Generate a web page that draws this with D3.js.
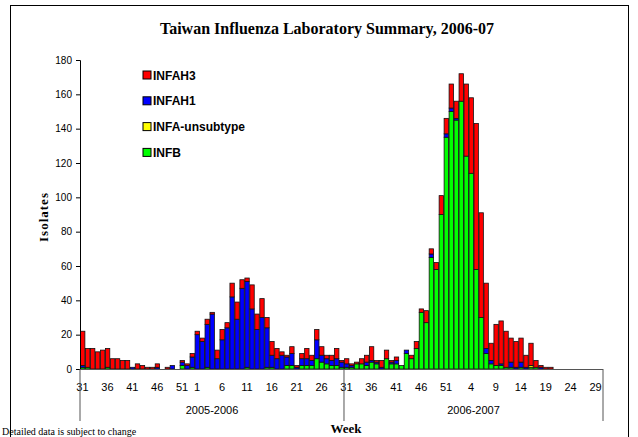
<!DOCTYPE html>
<html lang="en">
<head>
  <meta charset="UTF-8">
  <script src="https://d3js.org/d3.v7.min.js"></script>
  <style>
    body {
      margin: 0;
      background-color: #fff;
    }

    svg {
      display: block;
    }

    .serif {
      font-family: "Liberation Serif", "Times New Roman", serif;
      font-weight: bold;
    }

    .sans {
      font-family: "Liberation Sans", Arial, sans-serif;
    }
  </style>
</head>
<body>

<svg width="638" height="437"></svg>

<script>
  // season week numbers (2005 season had a week 53)
  const seasons = ['2005-2006', '2006-2007'];
  const weeks1 = d3.range(31, 54).concat(d3.range(1, 31));
  const weeks2 = d3.range(31, 53).concat(d3.range(1, 31));
  const tickWeeks1 = [31, 36, 41, 46, 51, 1, 6, 11, 16, 21, 26];
  const tickWeeks2 = [31, 36, 41, 46, 51, 4, 9, 14, 19, 24, 29];

  const seriesNames = ['INFAH3', 'INFAH1', 'INFA-unsubtype', 'INFB'];

  const h3 = [
    20, 11, 12, 10, 11, 11, 6, 6, 5, 5,
    0, 3, 2, 1, 1, 2, 0, 1, 0, 0,
    1, 1, 2, 2, 2, 3, 1, 5, 6, 3,
    8, 10, 5, 2, 14, 9, 11, 6, 8, 6,
    2, 1, 4, 1, 3, 6, 3, 6, 5, 2,
    3, 6, 1, 3, 1, 1, 3, 4, 8, 1,
    4, 5, 1, 2, 0, 0, 2, 4, 2, 7,
    3, 4, 11, 9, 14, 10, 16, 42, 44, 85,
    61, 38, 10, 24, 25, 21, 14, 15, 14, 7,
    13, 4, 1, 1, 1, 0, 0, 0, 0, 0,
    0, 0, 0, 0, 0
  ];
  const h1 = [
    1, 0, 0, 0, 0, 0, 0, 0, 0, 0,
    1, 0, 0, 0, 0, 1, 0, 0, 2, 0,
    2, 2, 6, 20, 16, 25, 32, 6, 17, 24,
    42, 29, 47, 50, 35, 23, 30, 23, 7, 6,
    8, 5, 7, 1, 4, 4, 3, 11, 4, 3,
    3, 4, 3, 2, 1, 0, 0, 2, 1, 1,
    1, 0, 1, 2, 0, 2, 0, 0, 0, 0,
    2, 0, 0, 2, 2, 1, 0, 0, 0, 0,
    0, 3, 2, 0, 1, 0, 3, 1, 3, 1,
    0, 0, 1, 0, 0, 0, 0, 0, 0, 0,
    0, 0, 0, 0, 0
  ];
  const unsub = [
    0, 0, 0, 0, 0, 0, 0, 0, 0, 0,
    0, 0, 0, 0, 0, 0, 0, 0, 0, 0,
    0, 0, 0, 0, 0, 0, 0, 0, 0, 0,
    0, 0, 0, 0, 0, 0, 0, 0, 0, 0,
    0, 0, 0, 0, 0, 0, 0, 0, 0, 0,
    0, 0, 0, 0, 0, 0, 0, 0, 0, 0,
    0, 0, 0, 0, 0, 0, 0, 0, 0, 0,
    0, 0, 0, 0, 0, 0, 0, 0, 0, 0,
    0, 0, 0, 0, 0, 0, 0, 0, 0, 0,
    1, 0, 0, 0, 0, 0, 0, 0, 0, 0,
    0, 0, 0, 0, 0
  ];
  const infb = [
    1, 1, 0, 0, 0, 1, 0, 0, 0, 0,
    0, 0, 0, 0, 0, 0, 0, 0, 0, 0,
    2, 0, 1, 0, 0, 1, 0, 0, 0, 0,
    0, 0, 0, 1, 0, 0, 0, 1, 1, 0,
    0, 2, 2, 0, 2, 2, 2, 6, 4, 3,
    2, 2, 1, 1, 1, 3, 3, 2, 4, 3,
    0, 6, 3, 3, 2, 9, 6, 12, 33, 27,
    65, 58, 90, 135, 150, 145, 156, 124, 114, 58,
    30, 9, 3, 2, 2, 1, 1, 0, 1, 0,
    1, 1, 0, 0, 0, 0, 0, 0, 0, 0,
    0, 0, 0, 0, 0
  ];

  const yTicks = d3.range(0, 181, 20);

  // build the rows for the stack
  const cats = [];
  weeks1.forEach(w => cats.push({ key: 's0-' + w, season: 0, week: w }));
  weeks2.forEach(w => cats.push({ key: 's1-' + w, season: 1, week: w }));
  const rows = cats.map((c, i) => ({
    key: c.key,
    'INFAH3': h3[i],
    'INFAH1': h1[i],
    'INFA-unsubtype': unsub[i],
    'INFB': infb[i]
  }));

  const colors = {
    'INFAH3': '#ff0000',
    'INFAH1': '#0000ff',
    'INFA-unsubtype': '#ffff00',
    'INFB': '#00ff00'
  };

  const svg = d3.select('svg');
  const plotL = 80, plotR = 603, plotT = 60, plotB = 369;

  // frame
  svg.append('rect')
    .attr('x', 10.5).attr('y', 5.5)
    .attr('width', 618).attr('height', 440)
    .attr('fill', 'none').attr('stroke', '#000');

  const x = d3.scaleBand()
    .domain(cats.map(c => c.key))
    .range([plotL, plotR])
    .paddingInner(0);

  const y = d3.scaleLinear()
    .domain([0, 180])
    .range([plotB, plotT]);

  // stacked bars, bottom series first
  const stack = d3.stack().keys(['INFB', 'INFA-unsubtype', 'INFAH1', 'INFAH3']);
  const layers = stack(rows);

  svg.append('g')
    .selectAll('g')
    .data(layers)
    .enter().append('g')
    .attr('fill', d => colors[d.key])
    .selectAll('rect')
    .data(d => d.filter(p => p[1] > p[0]))
    .enter().append('rect')
    .attr('x', d => x(d.data.key) + 0.5)
    .attr('width', x.bandwidth() - 0.6)
    .attr('y', d => y(d[1]))
    .attr('height', d => y(d[0]) - y(d[1]))
    .attr('stroke', '#111')
    .attr('stroke-width', 0.8);

  // y axis
  const yAxis = svg.append('g')
    .attr('transform', `translate(${plotL},0)`)
    .call(d3.axisLeft(y).tickValues(yTicks).tickSize(4).tickPadding(4));
  yAxis.select('.domain').attr('stroke', '#000');
  yAxis.selectAll('.tick line').attr('stroke', '#000');
  yAxis.selectAll('text')
    .attr('class', 'sans')
    .attr('font-size', 10)
    .attr('fill', '#000');

  // x axis line
  svg.append('line')
    .attr('x1', plotL).attr('x2', plotR)
    .attr('y1', plotB + 0.5).attr('y2', plotB + 0.5)
    .attr('stroke', '#555');

  // week labels
  const tickKeys = tickWeeks1.map(w => 's0-' + w).concat(tickWeeks2.map(w => 's1-' + w));
  svg.append('g')
    .selectAll('text')
    .data(tickKeys)
    .enter().append('text')
    .attr('class', 'sans')
    .attr('x', d => x(d) + x.bandwidth() / 2)
    .attr('y', 391)
    .attr('text-anchor', 'middle')
    .attr('font-size', 11)
    .text(d => d.split('-')[1]);

  // season separators and labels
  const bounds = [plotL, x('s1-31'), plotR];
  svg.append('g')
    .selectAll('line')
    .data(bounds)
    .enter().append('line')
    .attr('x1', d => d).attr('x2', d => d)
    .attr('y1', plotB).attr('y2', 421)
    .attr('stroke', '#555');

  svg.append('g')
    .selectAll('text')
    .data(seasons)
    .enter().append('text')
    .attr('class', 'sans')
    .attr('x', (d, i) => (bounds[i] + bounds[i + 1]) / 2)
    .attr('y', 414)
    .attr('text-anchor', 'middle')
    .attr('font-size', 11)
    .text(d => d);

  // titles
  svg.append('text')
    .attr('class', 'serif')
    .attr('x', 327).attr('y', 34)
    .attr('text-anchor', 'middle')
    .attr('font-size', 16)
    .text('Taiwan Influenza Laboratory Summary, 2006-07');

  svg.append('text')
    .attr('class', 'serif')
    .attr('transform', 'translate(48,217) rotate(-90)')
    .attr('text-anchor', 'middle')
    .attr('font-size', 13)
    .attr('letter-spacing', 1)
    .text('Isolates');

  svg.append('text')
    .attr('class', 'serif')
    .attr('x', 346).attr('y', 433)
    .attr('text-anchor', 'middle')
    .attr('font-size', 13)
    .text('Week');

  svg.append('text')
    .attr('x', 2).attr('y', 435)
    .attr('font-family', '"Liberation Serif", serif')
    .attr('font-size', 10)
    .text('Detailed data is subject to change');

  // legend
  const legend = svg.append('g')
    .selectAll('g')
    .data(seriesNames)
    .enter().append('g')
    .attr('transform', (d, i) => `translate(143,${75 + i * 25.8})`);
  legend.append('rect')
    .attr('x', 0).attr('y', -4)
    .attr('width', 8).attr('height', 8)
    .attr('fill', d => colors[d])
    .attr('stroke', '#000');
  legend.append('text')
    .attr('class', 'sans')
    .attr('x', 10).attr('y', 4.5)
    .attr('font-size', 12)
    .attr('font-weight', 'bold')
    .text(d => d);
</script>

</body>
</html>
